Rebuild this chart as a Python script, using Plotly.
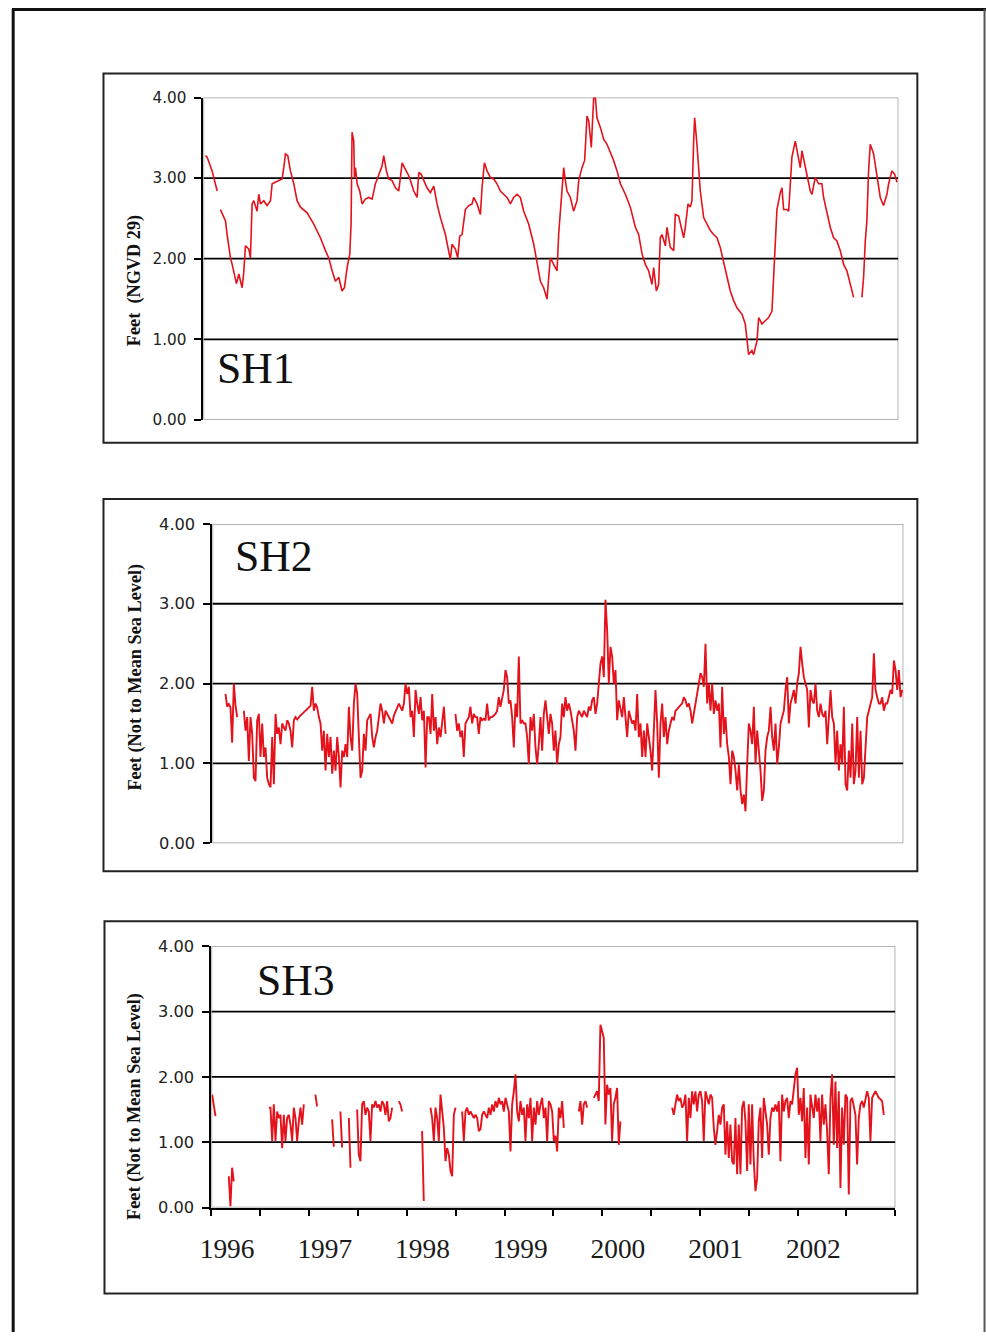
import plotly.graph_objects as go

# ---------------- DATA ----------------
# SH1: stage in feet (NGVD 29) vs decimal year
sh1_year = [1996.020, 1996.037, 1996.087, 1996.138, 1996.150, 1996.171, 1996.222, 1996.238, 1996.272, 1996.289,
            1996.305, 1996.332, 1996.356, 1996.389, 1996.406, 1996.423, 1996.457, 1996.473, 1996.490, 1996.507,
            1996.540, 1996.557, 1996.574, 1996.608, 1996.641, 1996.675, 1996.692, 1996.725, 1996.759, 1996.792,
            1996.809, 1996.826, 1996.849, 1996.876, 1996.910, 1996.943, 1996.977, 1997.044, 1997.111, 1997.178,
            1997.229, 1997.262, 1997.296, 1997.329, 1997.363, 1997.396, 1997.420, 1997.447, 1997.474, 1997.487,
            1997.497, 1997.514, 1997.521, 1997.531, 1997.548, 1997.574, 1997.598, 1997.631, 1997.665, 1997.699,
            1997.732, 1997.766, 1997.799, 1997.816, 1997.843, 1997.866, 1997.900, 1997.934, 1997.967, 1997.984,
            1998.001, 1998.034, 1998.068, 1998.091, 1998.118, 1998.152, 1998.169, 1998.192, 1998.219, 1998.252,
            1998.286, 1998.320, 1998.353, 1998.387, 1998.437, 1998.471, 1998.487, 1998.504, 1998.538, 1998.561,
            1998.581, 1998.605, 1998.638, 1998.672, 1998.706, 1998.722, 1998.756, 1998.790, 1998.806, 1998.830,
            1998.857, 1998.890, 1998.924, 1998.957, 1998.991, 1999.024, 1999.058, 1999.092, 1999.125, 1999.159,
            1999.192, 1999.226, 1999.276, 1999.327, 1999.360, 1999.394, 1999.427, 1999.461, 1999.478, 1999.494,
            1999.528, 1999.562, 1999.578, 1999.595, 1999.629, 1999.646, 1999.662, 1999.696, 1999.729, 1999.763,
            1999.780, 1999.813, 1999.840, 1999.864, 1999.881, 1999.907, 1999.931, 1999.948, 1999.964, 1999.998,
            2000.032, 2000.065, 2000.099, 2000.132, 2000.166, 2000.200, 2000.250, 2000.300, 2000.351, 2000.384,
            2000.418, 2000.451, 2000.485, 2000.518, 2000.535, 2000.562, 2000.585, 2000.602, 2000.619, 2000.653,
            2000.669, 2000.703, 2000.737, 2000.753, 2000.787, 2000.821, 2000.837, 2000.854, 2000.881, 2000.904,
            2000.921, 2000.938, 2000.948, 2000.971, 2000.988, 2001.005, 2001.039, 2001.072, 2001.106, 2001.139,
            2001.173, 2001.206, 2001.240, 2001.274, 2001.307, 2001.341, 2001.374, 2001.425, 2001.458, 2001.492,
            2001.525, 2001.542, 2001.576, 2001.593, 2001.626, 2001.660, 2001.693, 2001.727, 2001.744, 2001.760,
            2001.777, 2001.811, 2001.828, 2001.844, 2001.878, 2001.895, 2001.911, 2001.928, 2001.962, 2001.995,
            2002.012, 2002.029, 2002.063, 2002.096, 2002.113, 2002.130, 2002.163, 2002.197, 2002.230, 2002.247,
            2002.281, 2002.314, 2002.348, 2002.381, 2002.415, 2002.449, 2002.482, 2002.516, 2002.549, 2002.590,
            2002.633, 2002.650, 2002.667, 2002.683, 2002.700, 2002.717, 2002.751, 2002.784, 2002.818, 2002.851,
            2002.885, 2002.902, 2002.935, 2002.962, 2002.986]
sh1_feet = [3.28, 3.26, 3.09, 2.84, None, 2.61, 2.47, 2.30, 2.01, 1.93,
            1.83, 1.69, 1.81, 1.64, 1.83, 2.16, 2.12, 2.01, 2.68, 2.72,
            2.59, 2.80, 2.68, 2.72, 2.66, 2.72, 2.93, 2.95, 2.97, 2.99,
            3.13, 3.30, 3.28, 3.09, 2.93, 2.72, 2.64, 2.57, 2.43, 2.26,
            2.10, 2.01, 1.85, 1.72, 1.77, 1.60, 1.64, 1.89, 2.06, 2.43,
            3.57, 3.46, 3.01, 3.13, 2.93, 2.84, 2.68, 2.74, 2.76, 2.74,
            2.93, 3.03, 3.15, 3.28, 3.09, 2.99, 2.97, 2.88, 2.84, 3.01,
            3.19, 3.11, 3.03, 2.95, 2.84, 2.76, 3.07, 3.05, 2.97, 2.88,
            2.82, 2.90, 2.68, 2.51, 2.30, 2.10, 1.99, 2.18, 2.12, 2.01,
            2.28, 2.30, 2.61, 2.66, 2.68, 2.76, 2.68, 2.55, 2.88, 3.19,
            3.09, 3.01, 2.99, 2.93, 2.84, 2.80, 2.76, 2.68, 2.76, 2.80,
            2.76, 2.59, 2.43, 2.18, 1.97, 1.72, 1.64, 1.50, 1.77, 2.01,
            1.93, 1.85, 2.30, 2.59, 3.13, 2.97, 2.84, 2.76, 2.59, 2.72,
            2.97, 3.13, 3.22, 3.77, 3.71, 3.38, 4.00, 4.00, 3.75, 3.63,
            3.48, 3.42, 3.32, 3.22, 3.09, 2.93, 2.80, 2.64, 2.39, 2.30,
            2.06, 1.93, 1.85, 1.68, 1.89, 1.60, 1.68, 2.26, 2.30, 2.16,
            2.39, 2.14, 2.10, 2.55, 2.53, 2.35, 2.26, 2.39, 2.68, 2.64,
            2.72, 3.46, 3.75, 3.42, 3.13, 2.84, 2.51, 2.43, 2.35, 2.30,
            2.26, 2.14, 1.97, 1.77, 1.60, 1.48, 1.39, 1.31, 1.19, 0.81,
            0.86, 0.81, 0.98, 1.27, 1.19, 1.23, 1.27, 1.35, 1.77, 2.26,
            2.61, 2.82, 2.88, 2.61, 2.61, 2.59, 2.97, 3.26, 3.46, 3.26,
            3.13, 3.34, 3.13, 2.97, 2.84, 2.80, 3.01, 2.93, 2.93, 2.76,
            2.59, 2.39, 2.26, 2.22, 2.10, 1.93, 1.85, 1.68, 1.52, None,
            1.52, 1.77, 2.22, 2.47, 3.09, 3.42, 3.30, 3.05, 2.76, 2.66,
            2.80, 2.93, 3.09, 3.05, 2.95]

# SH2 / SH3: stage in feet (not to mean sea level), read at a regular interval
sh2_step = 0.01689   # years between readings
sh2_seg_start = [1996.132, 1996.318, 1998.462]
sh2_seg_feet = [
    [1.87, 1.71, 1.75, 1.70, 1.26, 2.00, 1.73, 1.58],
    [1.66, 1.41, 1.58, 1.03, 1.58, 1.37, 0.82, 0.78, 1.54, 1.62,
     1.08, 1.50, 1.08, 1.20, 0.82, 0.74, 0.70, 1.33, 0.74, 1.62,
     1.37, 1.45, 1.24, 1.50, 1.45, 1.41, 1.54, 1.50, 1.41, 1.20,
     1.54, 1.58, 1.55, 1.58, 1.60, 1.62, 1.64, 1.66, 1.68, 1.71,
     1.72, 1.96, 1.66, 1.75, 1.70, 1.58, 1.50, 1.16, 1.41, 0.91,
     1.37, 1.08, 1.33, 0.87, 1.16, 0.91, 1.33, 1.08, 0.70, 1.16,
     1.08, 1.24, 1.08, 1.71, 1.33, 1.16, 1.75, 2.00, 1.87, 1.33,
     0.82, 0.91, 1.37, 1.16, 1.54, 1.58, 1.62, 1.33, 1.20, 1.33,
     1.41, 1.58, 1.75, 1.66, 1.50, 1.66, 1.62, 1.58, 1.55, 1.50,
     1.60, 1.66, 1.70, 1.75, 1.70, 1.66, 1.75, 2.00, 1.87, 1.96,
     1.58, 1.66, 1.33, 1.92, 1.75, 1.62, 1.83, 1.54, 1.66, 0.95,
     1.58, 1.58, 1.37, 1.87, 1.41, 1.58, 1.24, 1.45, 1.33, 1.50,
     1.71, 1.37],
    [1.62, 1.41, 1.50, 1.33, 1.41, 1.08, 1.50, 1.54, 1.58, 1.71,
     1.50, 1.62, 1.58, 1.58, 1.37, 1.58, 1.54, 1.56, 1.54, 1.75,
     1.54, 1.58, 1.58, 1.60, 1.62, 1.66, 1.83, 1.71, 1.83, 1.92,
     2.17, 2.08, 1.75, 1.79, 1.58, 1.20, 1.75, 1.58, 2.34, 1.50,
     1.54, 1.50, 1.50, 1.33, 0.99, 1.58, 1.41, 1.62, 1.20, 0.99,
     1.24, 1.58, 1.16, 1.62, 1.79, 1.58, 1.37, 1.62, 1.50, 1.16,
     1.41, 0.99, 1.24, 1.33, 1.75, 1.58, 1.83, 1.66, 1.75, 1.66,
     1.50, 1.41, 1.16, 1.58, 1.66, 1.62, 1.58, 1.66, 1.62, 1.58,
     1.71, 1.66, 1.79, 1.83, 1.62, 1.75, 2.00, 2.25, 2.34, 2.08,
     3.05, 2.67, 2.00, 2.46, 2.34, 2.00, 2.17, 1.54, 1.79, 1.66,
     1.58, 1.83, 1.58, 1.33, 1.66, 1.58, 1.50, 1.54, 1.41, 1.87,
     1.33, 1.50, 1.08, 1.41, 1.08, 1.50, 1.33, 1.16, 0.91, 1.41,
     1.92, 1.50, 0.82, 1.50, 1.75, 1.33, 1.58, 1.24, 1.41, 1.50,
     1.58, 1.54, 1.66, 1.68, 1.71, 1.73, 1.75, 1.83, 1.79, 1.71,
     1.75, 1.66, 1.50, 1.62, 1.75, 1.83, 2.00, 2.13, 2.08, 1.96,
     2.50, 1.75, 2.00, 1.66, 2.00, 1.62, 1.79, 1.66, 1.75, 1.20,
     1.96, 1.37, 1.58, 1.24, 1.08, 0.74, 1.16, 1.08, 0.91, 0.66,
     0.99, 0.66, 0.49, 0.61, 0.40, 0.99, 1.50, 1.41, 1.24, 1.71,
     0.99, 1.41, 1.16, 0.91, 0.53, 0.66, 1.16, 1.33, 1.41, 1.71,
     1.33, 1.16, 1.50, 0.99, 1.20, 1.50, 1.58, 1.66, 1.92, 2.08,
     1.50, 1.75, 1.83, 1.92, 1.75, 2.00, 2.13, 2.46, 2.25, 2.08,
     2.00, 1.92, 1.45, 1.92, 1.79, 1.75, 2.00, 1.66, 1.58, 1.75,
     1.62, 1.58, 1.66, 1.24, 1.58, 1.92, 1.58, 1.50, 0.99, 1.41,
     0.91, 1.24, 0.99, 1.71, 0.74, 0.66, 1.16, 0.82, 1.50, 0.74,
     0.91, 1.58, 0.82, 1.41, 0.74, 0.82, 1.20, 1.58, 1.66, 1.75,
     1.83, 2.38, 1.92, 1.83, 1.75, 1.75, 1.83, 1.66, 1.75, 1.75,
     1.83, 1.92, 1.87, 2.29, 2.17, 1.92, 2.17, 1.83, 1.92],
]

sh3_step = 0.01706
sh3_seg_start = [1996.007, 1996.177, 1996.587, 1997.064, 1997.235, 1997.320, 1997.406, 1997.491,
                 1997.917, 1998.156, 1998.242, 1998.566, 1999.760, 1999.913, 2000.715]
sh3_seg_feet = [
    [1.73, 1.55, 1.40],
    [0.48, 0.02, 0.61, 0.40],
    [1.53, 1.53, 1.02, 1.58, 1.02, 1.47, 1.37, 1.42, 0.91, 1.42,
     1.02, 1.37, 1.42, 1.27, 1.02, 1.53, 1.37, 1.02, 1.32, 1.53,
     1.27, 1.58],
    [1.73, 1.55],
    [1.35, 0.93],
    [1.47, 0.92],
    [1.37, 0.61],
    [1.50, 0.81, 0.71, 1.58, 1.63, 1.42, 1.53, 1.47, 1.02, 1.58,
     1.53, 1.63, 1.53, 1.58, 1.47, 1.63, 1.58, 1.42, 1.63, 1.32,
     1.37, 1.53],
    [1.63, 1.58, 1.47],
    [1.17, 0.10],
    [1.53, 1.37, 1.02, 1.53, 1.37, 1.02, 1.73, 1.42, 1.22, 0.71,
     0.91, 0.81, 0.56, 0.48, 1.42, 1.53],
    [1.47, 1.02, 1.47, 1.53, 1.42, 1.47, 1.42, 1.37, 1.42, 1.37,
     1.17, 1.20, 1.42, 1.47, 1.42, 1.37, 1.53, 1.42, 1.58, 1.47,
     1.63, 1.53, 1.68, 1.58, 1.63, 1.47, 1.68, 1.58, 1.47, 0.86,
     1.58, 1.78, 2.04, 1.47, 1.32, 1.63, 1.42, 1.53, 1.02, 1.58,
     1.37, 1.68, 1.02, 1.53, 1.27, 1.63, 1.42, 1.58, 1.68, 1.37,
     1.53, 1.02, 1.63, 1.58, 1.47, 1.02, 1.10, 0.86, 1.53, 1.37,
     1.63, 1.22],
    [1.47, 1.63, 1.27, 1.58, 1.63, 1.53],
    [1.68, 1.73, 1.78, 1.63, 2.80, 2.70, 2.60, 1.27, 1.88, 1.73,
     1.83, 1.02, 1.58, 1.68, 1.83, 0.96, 1.32],
    [1.53, 1.42, 1.58, 1.73, 1.63, 1.68, 1.53, 1.58, 1.73, 1.02,
     1.68, 1.37, 1.78, 1.58, 1.78, 1.47, 1.73, 1.78, 1.63, 1.02,
     1.78, 1.68, 1.58, 1.73, 1.68, 1.22, 0.96, 1.17, 1.42, 1.27,
     1.53, 1.58, 0.81, 1.32, 0.76, 1.27, 0.71, 0.66, 1.37, 0.51,
     1.27, 0.51, 1.53, 1.63, 1.32, 0.56, 1.58, 0.66, 1.58, 0.71,
     0.25, 0.45, 1.32, 1.53, 0.76, 1.68, 1.47, 1.27, 0.81, 1.37,
     1.53, 1.47, 1.58, 1.47, 1.63, 0.71, 1.73, 1.47, 1.63, 1.68,
     1.37, 1.63, 1.58, 1.83, 2.04, 2.14, 1.42, 1.68, 1.32, 1.83,
     0.76, 1.53, 0.66, 1.73, 1.53, 1.37, 1.73, 1.47, 1.68, 1.02,
     1.73, 1.27, 1.58, 1.17, 0.51, 1.68, 2.04, 0.96, 1.93, 0.91,
     1.78, 0.30, 1.53, 0.96, 1.73, 1.68, 0.20, 1.63, 1.68, 1.53,
     1.42, 0.66, 1.37, 1.58, 1.63, 1.53, 1.68, 1.78, 1.68, 1.02,
     1.68, 1.73, 1.78, 1.73, 1.68, 1.66, 1.63, 1.42],
]

y_ticks = [0, 1, 2, 3, 4]
y_tick_text = ["0.00", "1.00", "2.00", "3.00", "4.00"]
year_labels = ["1996", "1997", "1998", "1999", "2000", "2001", "2002"]
half_year_ticks = [1996.0, 1996.5, 1997.0, 1997.5, 1998.0, 1998.5, 1999.0, 1999.5,
                   2000.0, 2000.5, 2001.0, 2001.5, 2002.0, 2002.5, 2003.0]
panel_names = ["SH1", "SH2", "SH3"]
axis_titles = ["Feet\u00a0 (NGVD 29)", "Feet (Not to Mean Sea Level)", "Feet (Not to Mean Sea Level)"]


def segments_to_xy(starts, segs, step):
    xs, ys = [], []
    for s, vals in zip(starts, segs):
        for i, v in enumerate(vals):
            xs.append(s + i * step)
            ys.append(v)
        xs.append(None)
        ys.append(None)
    return xs, ys


sh2_x, sh2_y = segments_to_xy(sh2_seg_start, sh2_seg_feet, sh2_step)
sh3_x, sh3_y = segments_to_xy(sh3_seg_start, sh3_seg_feet, sh3_step)

# ---------------- LAYOUT ----------------
# The captured page shows the figure offset by the body margin and slightly
# scaled; target screen positions are converted to figure positions here.
W, H = 986, 1342
OFFX, SX = 11.5, 0.988
OFFY, SY = 8.5, 0.985


def fx(p):
    return (p - OFFX) / SX / W


def fy(p):
    return 1 - (p - OFFY) / SY / H


def fs(size):
    return size / SY


# plot-area pixel boxes (left, right, top, bottom) and outer boxes, in screen pixels
plots = [(203, 898, 97, 419), (212, 903, 523, 842), (211, 895, 945, 1206)]
boxes = [(103, 917, 73, 442), (103, 917, 498, 870), (104, 917, 920, 1292)]
label_pos = [(215, 367), (233, 555), (255, 979)]
title_pos = [(134, 280), (135, 676), (134, 1105)]
tick_size = [15, 16, 16]

RED = "#e3121b"
fig = go.Figure()
series = [(sh1_year, sh1_feet, 1.6), (sh2_x, sh2_y, 1.9), (sh3_x, sh3_y, 1.9)]
for k, (xs, ys, lw) in enumerate(series):
    sfx = "" if k == 0 else str(k + 1)
    fig.add_trace(go.Scatter(x=xs, y=ys, mode="lines", line=dict(color=RED, width=lw),
                             xaxis="x" + sfx, yaxis="y" + sfx, showlegend=False,
                             connectgaps=False, hoverinfo="skip"))

layout = dict(width=W, height=H, margin=dict(l=0, r=0, t=0, b=0),
              paper_bgcolor="white", plot_bgcolor="white", showlegend=False)
shapes = []
annotations = []
for k in range(3):
    sfx = "" if k == 0 else str(k + 1)
    L, R, T, B = plots[k]
    xa = dict(domain=[fx(L), fx(R)], range=[1996, 2003], showgrid=False, zeroline=False,
              showline=False, showticklabels=False, ticks="", anchor="y" + sfx, fixedrange=True)
    if k == 2:
        xa.update(showline=True, linecolor="black", linewidth=2, showticklabels=True,
                  tickvals=[int(y) + 0.16 for y in year_labels], ticktext=year_labels,
                  tickfont=dict(family="Liberation Serif, Times New Roman, serif", size=fs(27), color="#1a1a1a"),
                  ticklabelstandoff=16,
                  minor=dict(tickvals=half_year_ticks, ticks="outside", ticklen=6,
                             tickcolor="black", tickwidth=1.5, showgrid=False))
    ya = dict(domain=[fy(B), fy(T)], range=[0, 4], tickvals=y_ticks, ticktext=y_tick_text,
              showgrid=False, zeroline=False, showline=True, linecolor="black", linewidth=2,
              ticks="outside", ticklen=7, tickcolor="black", tickwidth=1.5,
              tickfont=dict(family="DejaVu Sans, Verdana, sans-serif", size=fs(tick_size[k]), color="#222"),
              ticklabelstandoff=5, anchor="x" + sfx, fixedrange=True)
    layout["xaxis" + sfx] = xa
    layout["yaxis" + sfx] = ya

    xr, yr = "x" + sfx, "y" + sfx
    # plot-area border (grey)
    shapes.append(dict(type="rect", xref=xr, yref=yr, x0=1996, x1=2003, y0=0, y1=4,
                       line=dict(color="#9a9a9a", width=1.5), layer="below"))
    # horizontal gridlines
    for g in y_ticks[1:-1]:
        shapes.append(dict(type="line", xref=xr, yref=yr, x0=1996, x1=2003, y0=g, y1=g,
                           line=dict(color="black", width=1.8), layer="below"))
    # panel frame
    bL, bR, bT, bB = boxes[k]
    shapes.append(dict(type="rect", xref="paper", yref="paper", x0=fx(bL), x1=fx(bR),
                       y0=fy(bB), y1=fy(bT), line=dict(color="#222", width=2)))
    annotations.append(dict(text=panel_names[k], xref="paper", yref="paper",
                            x=fx(label_pos[k][0]), y=fy(label_pos[k][1]), xanchor="left",
                            yanchor="middle", showarrow=False,
                            font=dict(family="Liberation Serif, Times New Roman, serif", size=fs(43), color="#111")))
    annotations.append(dict(text="<b>" + axis_titles[k] + "</b>", xref="paper", yref="paper",
                            x=fx(title_pos[k][0]), y=fy(title_pos[k][1]), xanchor="center",
                            yanchor="middle", textangle=-90, showarrow=False,
                            font=dict(family="Liberation Serif, Times New Roman, serif", size=fs(18), color="#111")))

# outer page frame
shapes.append(dict(type="line", xref="paper", yref="paper", x0=1.2 / W, x1=1.2 / W, y0=0, y1=1,
                   line=dict(color="#111", width=3)))
shapes.append(dict(type="line", xref="paper", yref="paper", x0=0, x1=1, y0=1 - 0.6 / H, y1=1 - 0.6 / H,
                   line=dict(color="#111", width=3)))
shapes.append(dict(type="line", xref="paper", yref="paper", x0=1 - 1.5 / W, x1=1 - 1.5 / W, y0=0, y1=1,
                   line=dict(color="#555", width=2)))

layout["shapes"] = shapes
layout["annotations"] = annotations
fig.update_layout(**layout)
fig.write_html("out.html")
